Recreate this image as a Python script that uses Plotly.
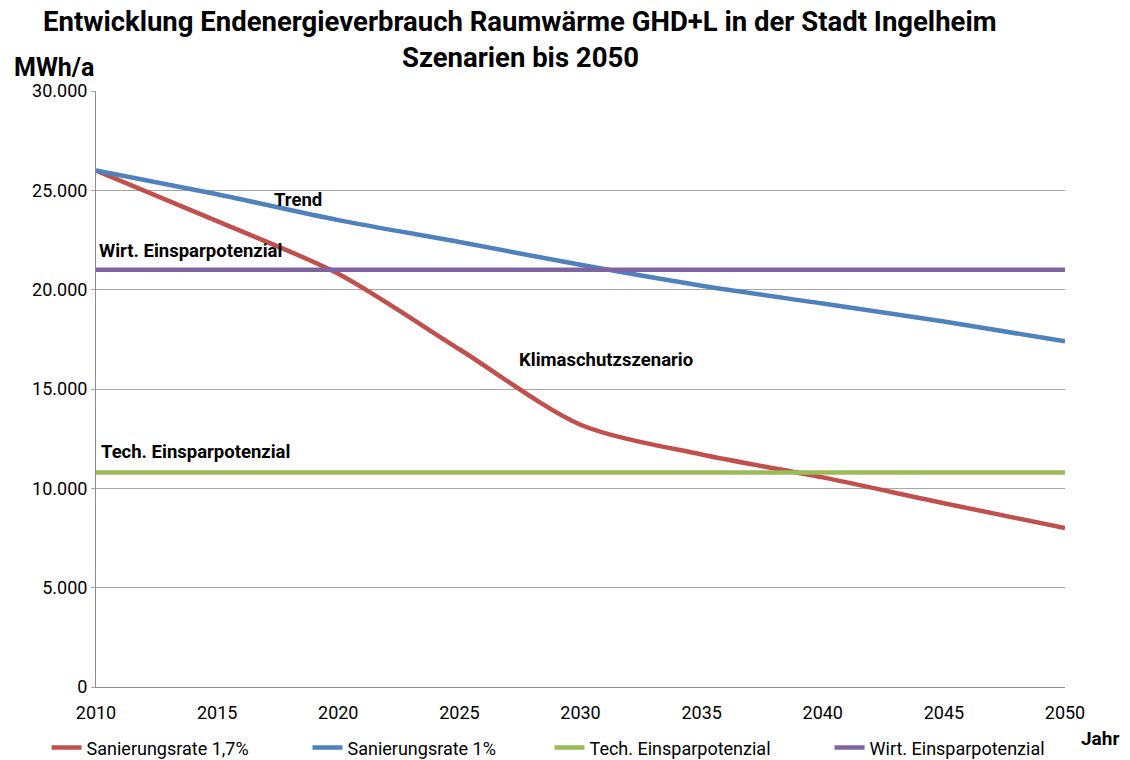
import plotly.graph_objects as go

# Jahre und Szenarien (MWh/a)
years = [2010, 2015, 2020, 2025, 2030, 2035, 2040, 2045, 2050]
sanierung_17 = [26000, 23450, 20800, 17000, 13200, 11700, 10550, 9250, 8000]
sanierung_1 = [26000, 24800, 23500, 22400, 21250, 20200, 19300, 18400, 17400]
tech_potenzial = [10800] * len(years)
wirt_potenzial = [21000] * len(years)

series_names = [
    "Sanierungsrate 1,7%",
    "Sanierungsrate 1%",
    "Tech. Einsparpotenzial",
    "Wirt. Einsparpotenzial",
]
series_values = [sanierung_17, sanierung_1, tech_potenzial, wirt_potenzial]
colors = ["#C0504D", "#4F81BD", "#9BBB59", "#8064A2"]

# Beschriftungen im Diagramm: (Text, x, y)
labels = [
    ("Trend", 2018.35, 24500),
    ("Wirt. Einsparpotenzial", 2013.9, 21950),
    ("Klimaschutzszenario", 2031.05, 16450),
    ("Tech. Einsparpotenzial", 2014.1, 11830),
]

FONT = "Roboto, Arial, sans-serif"

# each series gets its own legend so the entries sit like in the original
legend_ids = ["legend", "legend2", "legend3", "legend4"]
legend_x = [0.0412, 0.2721, 0.4863, 0.7341]

fig = go.Figure()

for name, vals, col, lg in zip(series_names, series_values, colors, legend_ids):
    fig.add_trace(
        go.Scatter(
            x=years,
            y=vals,
            mode="lines",
            name=name,
            legend=lg,
            showlegend=True,
            line={"color": col, "width": 4.5, "shape": "spline", "smoothing": 0.8},
        )
    )

for text, x, y in labels:
    fig.add_annotation(
        x=x, y=y, text=f"<b>{text}</b>", showarrow=False,
        font={"size": 18.5, "color": "black"},
    )

# Titel (zwei Zeilen) und Achsenbeschriftungen
fig.add_annotation(
    xref="paper", yref="paper", x=0.4376, y=1.1158, yanchor="middle",
    text="<b>Entwicklung Endenergieverbrauch Raumwärme GHD+L in der Stadt Ingelheim</b>",
    showarrow=False, font={"size": 27.5},
)
fig.add_annotation(
    xref="paper", yref="paper", x=0.4376, y=1.0554, yanchor="middle",
    text="<b>Szenarien bis 2050</b>", showarrow=False, font={"size": 27.5},
)
fig.add_annotation(
    xref="paper", yref="paper", x=-0.087, y=1.039, xanchor="left", yanchor="middle",
    text="<b>MWh/a</b>", showarrow=False, font={"size": 25},
)
fig.add_annotation(
    xref="paper", yref="paper", x=1.036, y=-0.0856, xanchor="center", yanchor="middle",
    text="<b>Jahr</b>", showarrow=False, font={"size": 19},
)

legend_style = {}
for lg, lx in zip(legend_ids, legend_x):
    legend_style[lg] = {
        "orientation": "h",
        "xref": "container",
        "yref": "container",
        "x": lx,
        "xanchor": "left",
        "y": 0.016,
        "yanchor": "middle",
        "font": {"size": 18},
    }

fig.update_layout(
    width=1130,
    height=760,
    showlegend=True,
    paper_bgcolor="white",
    plot_bgcolor="white",
    separators=",.",
    font={"family": FONT, "size": 18, "color": "black"},
    margin={"l": 96, "r": 65, "t": 91, "b": 73, "autoexpand": False},
    xaxis={
        "range": [2010, 2050],
        "tickvals": list(range(2010, 2051, 5)),
        "showgrid": False,
        "showline": True,
        "linecolor": "#8C8C8C",
        "ticks": "",
        "ticklabelstandoff": 9,
        "zeroline": False,
        "tickfont": {"size": 18},
    },
    yaxis={
        "range": [0, 30000],
        "tickvals": list(range(0, 30001, 5000)),
        "tickformat": ",d",
        "showgrid": True,
        "gridcolor": "#A6A6A6",
        "showline": True,
        "linecolor": "#8C8C8C",
        "ticks": "outside",
        "ticklen": 4,
        "tickcolor": "#A6A6A6",
        "zeroline": False,
        "tickfont": {"size": 18},
    },
    **legend_style,
)

fig.write_html(
    "out.html",
    config={"displayModeBar": False},
    post_script="document.body.style.margin = '0';",
)
